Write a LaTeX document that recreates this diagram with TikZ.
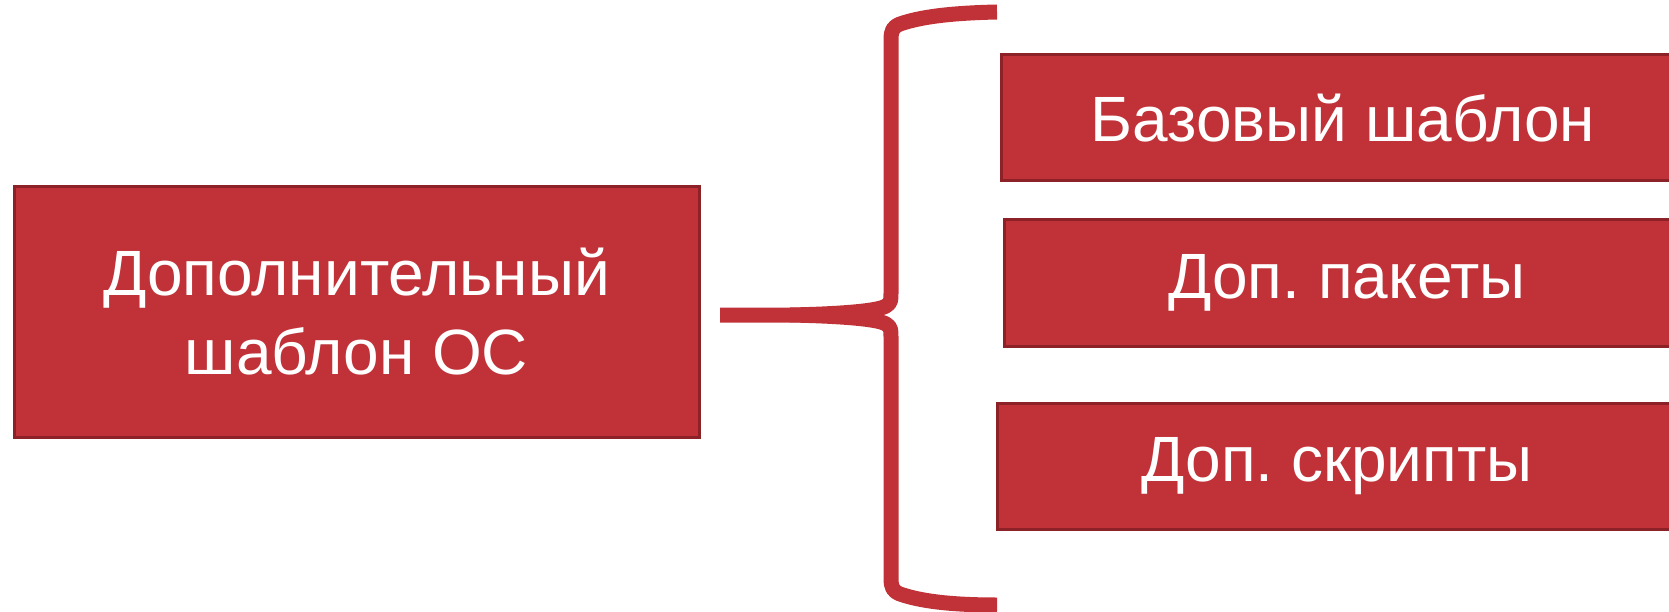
\documentclass[tikz,border=0pt]{standalone}
\usepackage{fontspec}
\setmainfont{Liberation Sans}
\frenchspacing
\definecolor{boxfill}{RGB}{192,50,56}
\definecolor{boxline}{RGB}{140,34,40}
\begin{document}
\begin{tikzpicture}[x=1pt,y=-1pt,
  redbox/.style={draw=boxline,line width=3pt,fill=boxfill,text=white,
    rectangle,inner sep=0pt,align=center,font=\fontsize{64}{79}\selectfont},
  bracestroke/.style={draw=boxfill,line width=15pt,line join=round}]
\useasboundingbox (0,0) rectangle (1669,612);
\node[redbox,minimum width=685pt,minimum height=250pt] (main) at (356.5,312)
  {Дополнительный\\шаблон ОС};
\node[redbox,minimum width=684pt,minimum height=126pt] (base) at (1343,118) {Базовый шаблон};
\node[redbox,minimum width=686pt,minimum height=126pt] (pkgs) at (1347,283) {Доп. пакеты};
\node[redbox,minimum width=680pt,minimum height=126pt] (scr) at (1337,466) {Доп. скрипты};
\coordinate (bstart) at (720,315);
\coordinate (bmid) at (790,315);
\coordinate (btop) at (997,12);
\coordinate (bbot) at (997,605);
% brace
\draw[bracestroke] (bstart) -- (bmid)
  .. controls (840,314) and (878,311) .. (886,306)
  .. controls (891,303) and (891,300) .. (891,293)
  -- (891,40)
  .. controls (891,30) and (893,27) .. (900,24)
  .. controls (920,17) and (950,13) .. (btop);
\draw[bracestroke] (bmid)
  .. controls (840,316) and (878,319) .. (886,324)
  .. controls (891,327) and (891,330) .. (891,337)
  -- (891,578)
  .. controls (891,588) and (893,591) .. (900,594)
  .. controls (920,601) and (950,605) .. (bbot);
\end{tikzpicture}
\end{document}
